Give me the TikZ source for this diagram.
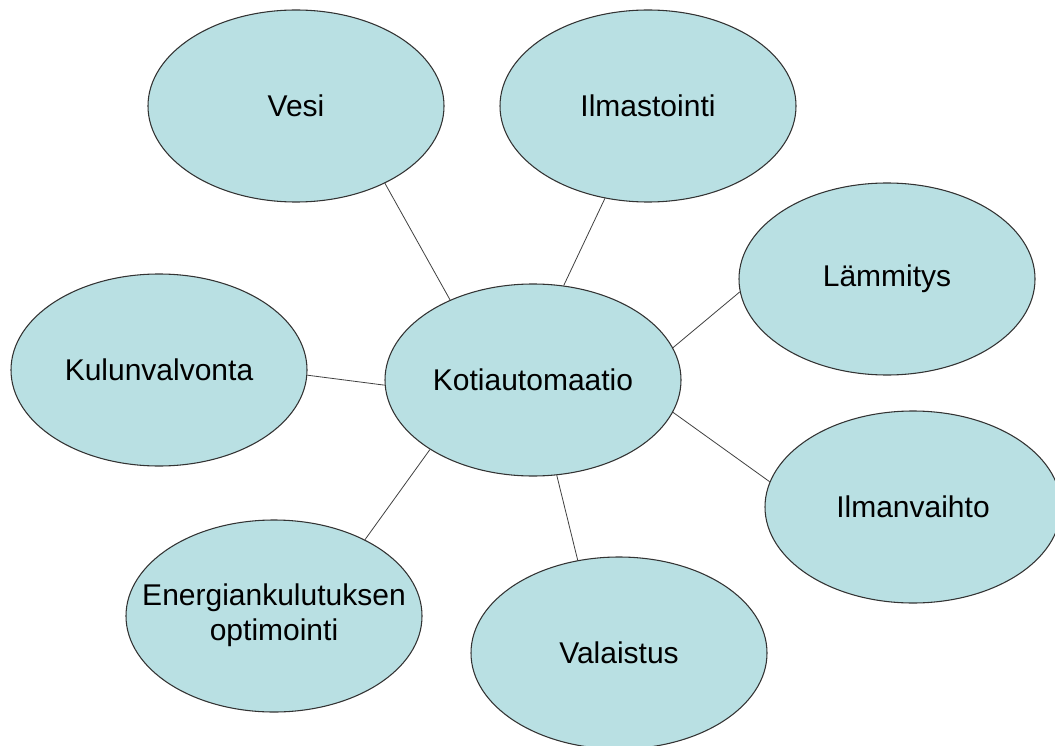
\documentclass[tikz,border=0pt]{standalone}
\usepackage{fontspec}
\setmainfont{Liberation Sans}
\usetikzlibrary{shapes.geometric, positioning}
\definecolor{bubblefill}{RGB}{185,224,227}
\begin{document}
\begin{tikzpicture}[x=0.75pt, y=-0.75pt]
        \tikzstyle{bubble}=[draw=black!80, line width=0.8pt, fill=bubblefill, ellipse,
          minimum width=222pt, minimum height=144pt, inner sep=0pt,
          font=\fontsize{22.5}{26.25}\selectfont];
        \useasboundingbox (0,0) rectangle (1055,745);
        \node[bubble] (koti) at (533,380) {Kotiautomaatio};
        \node[bubble] (vesi) at (296,106) {Vesi};
        \node[bubble] (ilmastointi) at (648,106) {Ilmastointi};
        \node[bubble] (lammitys) at (887,279) {Lämmitys};
        \node[bubble] (kulunvalvonta) at (159,370) {Kulunvalvonta};
        \node[bubble] (ilmanvaihto) at (913,507) {Ilmanvaihto};
        \node[bubble] (energia) at (274,616)
          {\makebox[0pt]{\begin{tabular}{@{}c@{}}Energiankulutuksen\\optimointi\end{tabular}}};
        \node[bubble] (valaistus) at (619,653) {Valaistus};

        \path[draw=black!75, line width=0.6pt]
        (koti.136) edge (vesi.-41)
        (koti.72) edge (ilmastointi.-115)
        (koti.13) edge (lammitys.-175)
        (koti.-178) edge (kulunvalvonta.-2)
        (koti.-13) edge (ilmanvaihto.170)
        (koti.-146) edge (energia.40)
        (koti.-76) edge (valaistus.114);
      \end{tikzpicture}
\end{document}
